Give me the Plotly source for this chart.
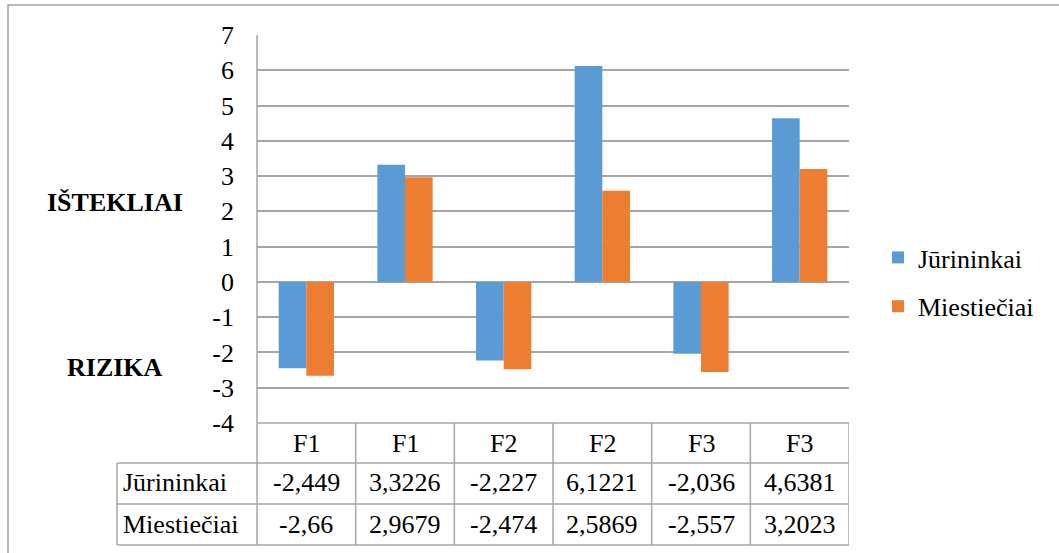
import plotly.graph_objects as go

categories = ["F1", "F1", "F2", "F2", "F3", "F3"]
series_names = ["Jūrininkai", "Miestiečiai"]
jurininkai = [-2.449, 3.3226, -2.227, 6.1221, -2.036, 4.6381]
miestieciai = [-2.66, 2.9679, -2.474, 2.5869, -2.557, 3.2023]
table_text = {
    "Jūrininkai": ["-2,449", "3,3226", "-2,227", "6,1221", "-2,036", "4,6381"],
    "Miestiečiai": ["-2,66", "2,9679", "-2,474", "2,5869", "-2,557", "3,2023"],
}
colors = ["#5B9BD5", "#ED7D31"]
y_ticks = list(range(-4, 8))

W, H = 1059, 553
L, R, T, B = 257, 210, 35, 130
PW, PH = W - L - R, H - T - B
FONT = "Liberation Serif"
GRID = "#A6A6A6"


def txt():
    return dict(family=FONT, size=26, color="#000000")


def px(xp):
    return (xp - L) / PW


def py(yp):
    return (H - B - yp) / PH


xs = list(range(len(categories)))
fig = go.Figure()
for name, vals, c in zip(series_names, [jurininkai, miestieciai], colors):
    fig.add_trace(go.Bar(x=xs, y=vals, name=name, marker_color=c,
                         marker_line_width=0, legendgroup=name))

shapes = []
annotations = []
ln = dict(color=GRID, width=1.5)
# outer border
shapes.append(dict(type="rect", xref="paper", yref="paper", x0=px(8), x1=px(1065),
                   y0=py(565), y1=py(5), line=dict(color="#A0A0A0", width=1.5)))
# axis line / table left border
shapes.append(dict(type="line", xref="paper", yref="paper", x0=0, x1=0,
                   y0=py(545), y1=py(35), line=ln))
# bottom gridline / table top
shapes.append(dict(type="line", xref="paper", yref="paper", x0=0, x1=1,
                   y0=py(423), y1=py(423), line=ln))
# table horizontal lines
for yp in [463, 504, 545]:
    shapes.append(dict(type="line", xref="paper", yref="paper", x0=px(117), x1=1,
                       y0=py(yp), y1=py(yp), line=ln))
shapes.append(dict(type="line", xref="paper", yref="paper", x0=px(117), x1=px(117),
                   y0=py(545), y1=py(463), line=ln))
for i in range(len(categories)):
    shapes.append(dict(type="line", xref="x", yref="paper", x0=i + 0.5, x1=i + 0.5,
                       y0=py(545), y1=py(423), line=ln))
# table text
for i, cat in enumerate(categories):
    annotations.append(dict(x=i, y=py(443), xref="x", yref="paper", text=cat,
                            xanchor="center", yanchor="middle", showarrow=False, font=txt()))
for r, name in enumerate(series_names):
    yc = py(483 + 41 * r)
    annotations.append(dict(x=px(121), y=yc, xref="paper", yref="paper", text=name,
                            xanchor="left", yanchor="middle", showarrow=False, font=txt()))
    for i, t in enumerate(table_text[name]):
        annotations.append(dict(x=i, y=yc, xref="x", yref="paper", text=t,
                                xanchor="center", yanchor="middle", showarrow=False, font=txt()))
# side labels
annotations.append(dict(x=px(115), y=py(202), xref="paper", yref="paper", text="<b>IŠTEKLIAI</b>",
                        xanchor="center", yanchor="middle", showarrow=False, font=txt()))
annotations.append(dict(x=px(115), y=py(367), xref="paper", yref="paper", text="<b>RIZIKA</b>",
                        xanchor="center", yanchor="middle", showarrow=False, font=txt()))

fig.update_layout(
    width=W, height=H,
    margin=dict(l=L, r=R, t=T, b=B, pad=0),
    paper_bgcolor="white", plot_bgcolor="white",
    barmode="group", bargap=0.44, bargroupgap=0,
    font=txt(),
    xaxis=dict(range=[-0.5, len(categories) - 0.5], showticklabels=False, showgrid=False,
               zeroline=False, showline=False, fixedrange=True),
    yaxis=dict(range=[-4, 7], tickvals=y_ticks, ticktext=[str(v) for v in y_ticks],
               showgrid=True, gridcolor=GRID, gridwidth=1.5, zeroline=False, showline=False,
               ticks="", ticklabelstandoff=22, tickfont=txt(), fixedrange=True),
    legend=dict(x=px(878), y=py(234), xanchor="left", yanchor="top", font=txt(),
                tracegroupgap=12, itemwidth=30, bgcolor="rgba(0,0,0,0)"),
    showlegend=True,
    shapes=shapes, annotations=annotations,
)
fig.write_html("out.html", config={"displayModeBar": False},
               post_script="document.body.style.margin='0';")
